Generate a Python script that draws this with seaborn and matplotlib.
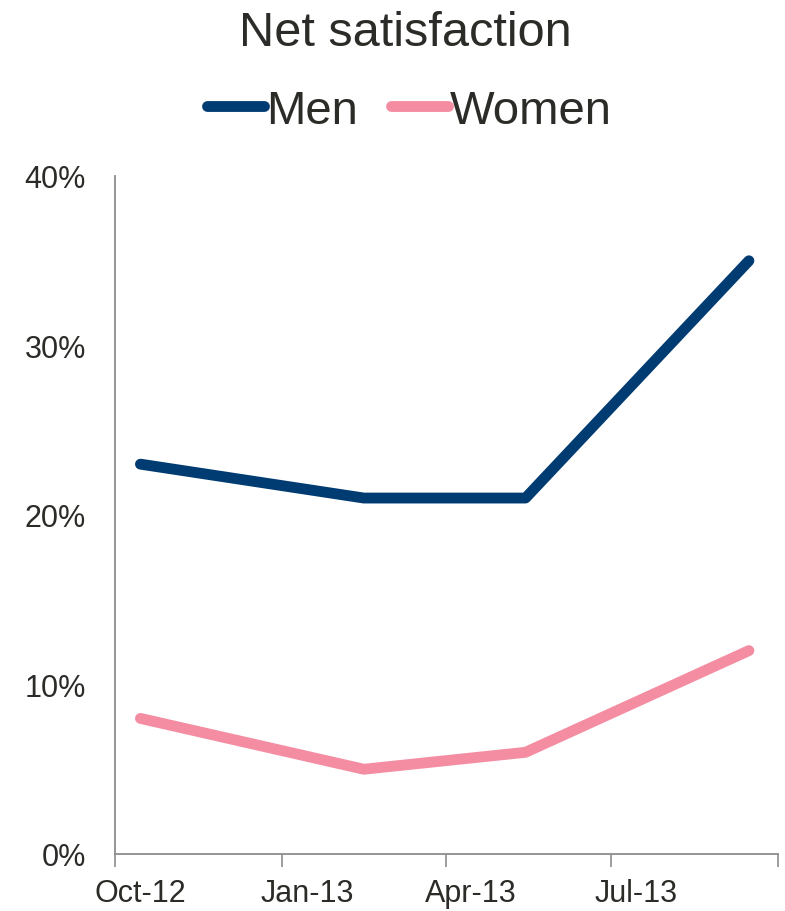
import matplotlib
matplotlib.use("Agg")
import matplotlib.pyplot as plt
from matplotlib.ticker import FuncFormatter
import pandas as pd
import seaborn as sns


# ======================================================
# Data
# ======================================================

dates = ["2012-10-15", "2013-02-15", "2013-05-15", "2013-09-15"]
men = [0.23, 0.21, 0.21, 0.35]
women = [0.08, 0.05, 0.06, 0.12]

tick_dates = ["2012-10-01", "2013-01-01", "2013-04-01", "2013-07-01", "2013-10-01"]
label_dates = ["2012-10-15", "2013-01-15", "2013-04-15", "2013-07-15"]
tick_labels = ["Oct-12", "Jan-13", "Apr-13", "Jul-13"]

colors = {"Men": "#003B71", "Women": "#F48CA2"}
text_color = "#2B2B28"
axis_color = "#8C8C8C"

df = pd.DataFrame({
    "date": pd.to_datetime(dates * 2),
    "value": men + women,
    "group": ["Men"] * len(men) + ["Women"] * len(women),
})


# ======================================================
# Plot
# ======================================================

sns.set_style("white")
plt.rcParams["font.family"] = ["Liberation Sans", "DejaVu Sans"]

fig = plt.figure(figsize=(7.85, 9.12), dpi=100)
ax = fig.add_axes([115 / 785, 57 / 912, 663 / 785, 678 / 912])

sns.lineplot(data=df, x="date", y="value", hue="group",
             palette=colors, linewidth=7.8, ax=ax)

for line in ax.get_lines():
    line.set_solid_capstyle("round")
    line.set_solid_joinstyle("round")

ax.set_xlim(pd.Timestamp(tick_dates[0]), pd.Timestamp(tick_dates[-1]))
ax.set_ylim(0, 0.40)
ax.set_yticks([0, 0.1, 0.2, 0.3, 0.4])
ax.yaxis.set_major_formatter(FuncFormatter(lambda v, p: f"{v * 100:.0f}%"))

ax.set_xticks(pd.to_datetime(tick_dates))
ax.set_xticklabels([])
ax.set_xticks(pd.to_datetime(label_dates), minor=True)
ax.set_xticklabels(tick_labels, minor=True)

ax.tick_params(axis="x", which="major", length=9, width=1.2,
               color=axis_color, direction="out", bottom=True)
ax.tick_params(axis="x", which="minor", length=0, pad=17,
               labelsize=22, labelcolor=text_color)
ax.tick_params(axis="y", length=0, pad=21, labelsize=22,
               labelcolor=text_color)

for side in ["top", "right"]:
    ax.spines[side].set_visible(False)
for side in ["left", "bottom"]:
    ax.spines[side].set_color(axis_color)
    ax.spines[side].set_linewidth(1.3)

ax.set_xlabel("")
ax.set_ylabel("")

handles, labels = ax.get_legend_handles_labels()
for h in handles:
    h.set_linewidth(7.8)
    h.set_solid_capstyle("round")
ax.legend(handles, labels, loc="center", ncol=2, frameon=False,
          bbox_to_anchor=(0.522, 1 - 112 / 912), bbox_transform=fig.transFigure,
          fontsize=34, handlelength=1.2, handletextpad=0.05,
          columnspacing=0.7, labelcolor=text_color)

fig.text(0.516, 1 - 33 / 912, "Net satisfaction", ha="center", va="center",
         fontsize=35, color=text_color)

fig.savefig("out.png", dpi=100)
plt.close()
